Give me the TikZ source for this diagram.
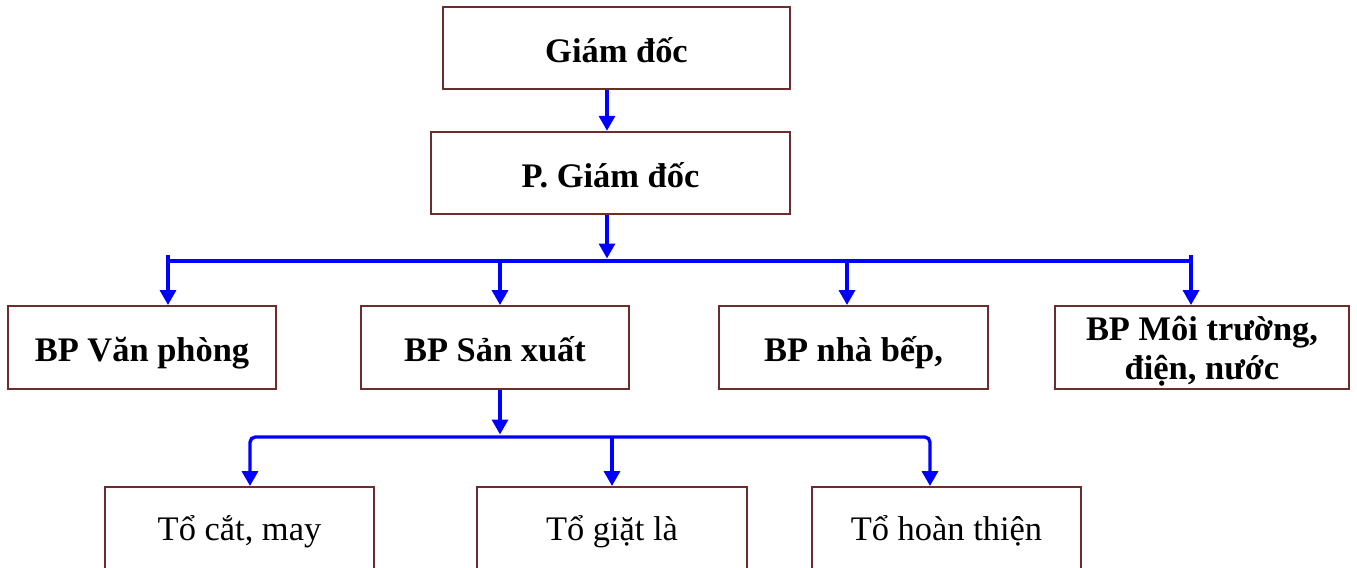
\documentclass[tikz,border=0pt]{standalone}
\usepackage{fontspec}
\setmainfont{Liberation Serif}
\usetikzlibrary{arrows.meta}

\definecolor{boxred}{RGB}{110,45,45}
\definecolor{linkblue}{RGB}{0,0,255}

\tikzset{
	plainbox/.style={draw=boxred, line width=1.4pt, inner sep=0pt, minimum height=1.65cm, align=center, font=\fontsize{19.6}{22.2}\selectfont},
	unitbox/.style={plainbox, text height=16pt, text depth=2pt},
	headbox/.style={unitbox, text height=18pt, font=\fontsize{19.6}{22.2}\selectfont\bfseries},
	link/.style={draw=linkblue, line width=1.9pt},
	arr/.style={link, -{Triangle[length=0.3cm,width=0.32cm]}},
}

\begin{document}
\begin{tikzpicture}[x=0.02cm, y=-0.02cm]
	\useasboundingbox (0,0) rectangle (1357,568);

	% management
	\node[headbox, minimum width=6.94cm, minimum height=1.64cm] (gd) at (616.5,48) {Giám đốc};
	\node[headbox, minimum width=7.18cm, minimum height=1.64cm] (pgd) at (610.5,173) {P. Giám đốc};

	% departments
	\node[headbox, minimum width=5.36cm] (vp) at (142,347.5) {BP Văn phòng};
	\node[headbox, minimum width=5.36cm] (sx) at (495,347.5) {BP Sản xuất};
	\node[headbox, minimum width=5.38cm] (nb) at (853.5,347.5) {BP nhà bếp,};
	\node[plainbox, minimum width=5.88cm, text depth=-1pt, font=\fontsize{19.6}{22.2}\selectfont\bfseries] (mt) at (1202,347.5) {BP Môi trường,\\điện, nước};

	% teams
	\node[unitbox, minimum width=5.38cm] (cm) at (239.5,528.5) {Tổ cắt, may};
	\node[unitbox, minimum width=5.40cm] (gl) at (612,528.5) {Tổ giặt là};
	\node[unitbox, minimum width=5.38cm] (ht) at (946.5,528.5) {Tổ hoàn thiện};

	\coordinate (bus1) at (607,261);
	\coordinate (bus2) at (500,437);

	\draw[arr] (gd.south -| bus1) -- (pgd.north -| bus1);
	\draw[arr] (pgd.south -| bus1) -- ([yshift=0.05cm]bus1);
	\draw[link] (168,255) -- (168,261) -- (1191,261) -- (1191,255);
	\foreach \x/\n in {168/vp,500/sx,847/nb,1191/mt}
		\draw[arr] (\x,261) -- (\n.north -| \x,0);

	\draw[arr] (sx.south -| bus2) -- ([yshift=0.05cm]bus2);
	\draw[link, {Triangle[length=0.3cm,width=0.32cm]}-{Triangle[length=0.3cm,width=0.32cm]}, rounded corners=3pt]
		(cm.north -| 250,0) -- (250,437) -- (930,437) -- (ht.north -| 930,0);
	\draw[arr] (gl.north |- bus2) -- (gl.north);
\end{tikzpicture}
\end{document}
